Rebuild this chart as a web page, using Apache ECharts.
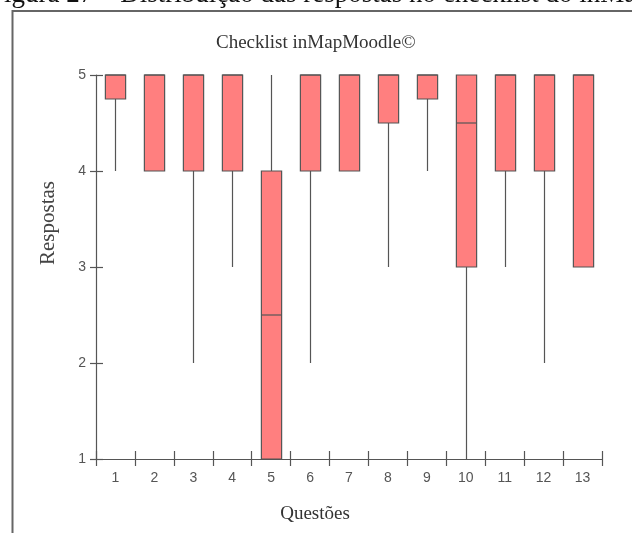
<!DOCTYPE html>
<html>
<head>
<meta charset="utf-8">
<script src="https://cdn.jsdelivr.net/npm/echarts@6/dist/echarts.min.js"></script>
<style>
html,body{margin:0;padding:0;background:#fff;}
#chart{width:632px;height:533px;}
</style>
</head>
<body>
<div id="chart"></div>
<script>
const categories = ['1','2','3','4','5','6','7','8','9','10','11','12','13'];
const minVals    = [4, 4, 2, 3, 1, 2, 4, 3, 4, 1, 3, 2, 3];
const q1Vals     = [4.75, 4, 4, 4, 1, 4, 4, 4.5, 4.75, 3, 4, 4, 3];
const medianVals = [5, 5, 5, 5, 2.5, 5, 5, 5, 5, 4.5, 5, 5, 5];
const q3Vals     = [5, 5, 5, 5, 4, 5, 5, 5, 5, 5, 5, 5, 5];
const maxVals    = [5, 5, 5, 5, 5, 5, 5, 5, 5, 5, 5, 5, 5];
const yTicks = [1, 2, 3, 4, 5];

const boxData = categories.map((c, i) => [i, minVals[i], q1Vals[i], medianVals[i], q3Vals[i], maxVals[i]]);

const chart = echarts.init(document.getElementById('chart'), null, {renderer: 'canvas'});
const lineColor = '#555';
const labelColor = '#555';

function renderItem(params, api) {
  const idx = api.value(0);
  const vMin = api.value(1), vQ1 = api.value(2), vMed = api.value(3), vQ3 = api.value(4), vMax = api.value(5);
  const pMin = api.coord([idx, vMin]);
  const pQ1 = api.coord([idx, vQ1]);
  const pMed = api.coord([idx, vMed]);
  const pQ3 = api.coord([idx, vQ3]);
  const pMax = api.coord([idx, vMax]);
  const bw = api.size([1, 0])[0] * 0.52;
  const cx = Math.round(pQ1[0]) + 0.5;
  const children = [];
  if (vMin < vQ1) {
    children.push({type: 'line', shape: {x1: cx, y1: pMin[1], x2: cx, y2: pQ1[1]}, style: {stroke: lineColor, lineWidth: 1.2}});
  }
  if (vMax > vQ3) {
    children.push({type: 'line', shape: {x1: cx, y1: pQ3[1], x2: cx, y2: pMax[1]}, style: {stroke: lineColor, lineWidth: 1.2}});
  }
  children.push({type: 'rect', shape: {x: cx - bw / 2, y: pQ3[1], width: bw, height: pQ1[1] - pQ3[1]}, style: {fill: '#FF7F7F', stroke: lineColor, lineWidth: 1.2}});
  children.push({type: 'line', shape: {x1: cx - bw / 2, y1: pMed[1], x2: cx + bw / 2, y2: pMed[1]}, style: {stroke: lineColor, lineWidth: 1.2}});
  return {type: 'group', children: children};
}

const option = {
  animation: false,
  backgroundColor: '#fff',
  title: {
    text: 'Checklist inMapMoodle©',
    left: 211, top: 29,
    textStyle: {fontFamily: 'Liberation Serif', fontSize: 19, fontWeight: 'normal', color: '#333'}
  },
  grid: {left: 96, right: 30, top: 75, bottom: 74, containLabel: false},
  xAxis: [{
    type: 'category', data: categories, boundaryGap: true, position: 'bottom',
    axisLine: {show: true, lineStyle: {color: lineColor, width: 1.2}},
    axisTick: {show: true, inside: false, length: 7, interval: 0, lineStyle: {color: lineColor, width: 1.2}},
    axisLabel: {color: labelColor, fontSize: 14, fontFamily: 'Liberation Sans', margin: 12, interval: 0},
    splitLine: {show: false}
  }, {
    type: 'category', data: categories, boundaryGap: true, position: 'bottom',
    axisLine: {show: false},
    axisTick: {show: true, inside: true, length: 8, interval: 0, lineStyle: {color: lineColor, width: 1.2}},
    axisLabel: {show: false},
    splitLine: {show: false}
  }],
  yAxis: [{
    type: 'value', min: yTicks[0], max: yTicks[yTicks.length - 1], interval: 1, position: 'left',
    axisLine: {show: true, lineStyle: {color: lineColor, width: 1.2}},
    axisTick: {show: true, inside: false, length: 6, lineStyle: {color: lineColor, width: 1.2}},
    axisLabel: {color: labelColor, fontSize: 14, fontFamily: 'Liberation Sans', margin: 10},
    splitLine: {show: false}
  }, {
    type: 'value', min: yTicks[0], max: yTicks[yTicks.length - 1], interval: 1, position: 'left',
    axisLine: {show: false},
    axisTick: {show: true, inside: true, length: 7, lineStyle: {color: lineColor, width: 1.2}},
    axisLabel: {show: false},
    splitLine: {show: false}
  }],
  series: [{
    type: 'custom',
    xAxisIndex: 0, yAxisIndex: 0,
    renderItem: renderItem,
    encode: {x: 0, y: [1, 2, 3, 4, 5]},
    data: boxData,
    z: 5
  }],
  graphic: [
    {type: 'text', x: -11, y: 8, style: {text: 'Figura 27 – Distribuição das respostas no checklist do inMapMoodle', font: '27px "Liberation Serif"', fill: '#111', verticalAlign: 'bottom', align: 'left'}},
    {type: 'polyline', shape: {points: [[12.5, 533], [12.5, 11], [632, 11]]}, style: {stroke: '#666', lineWidth: 2, fill: null}},
    {type: 'text', x: 48, y: 223, rotation: Math.PI / 2, style: {text: 'Respostas', font: '21px "Liberation Serif"', fill: '#444', align: 'center', verticalAlign: 'middle'}},
    {type: 'text', x: 315, y: 514, style: {text: 'Questões', font: '19px "Liberation Serif"', fill: '#333', align: 'center', verticalAlign: 'middle'}}
  ]
};
chart.setOption(option);
</script>
</body>
</html>
